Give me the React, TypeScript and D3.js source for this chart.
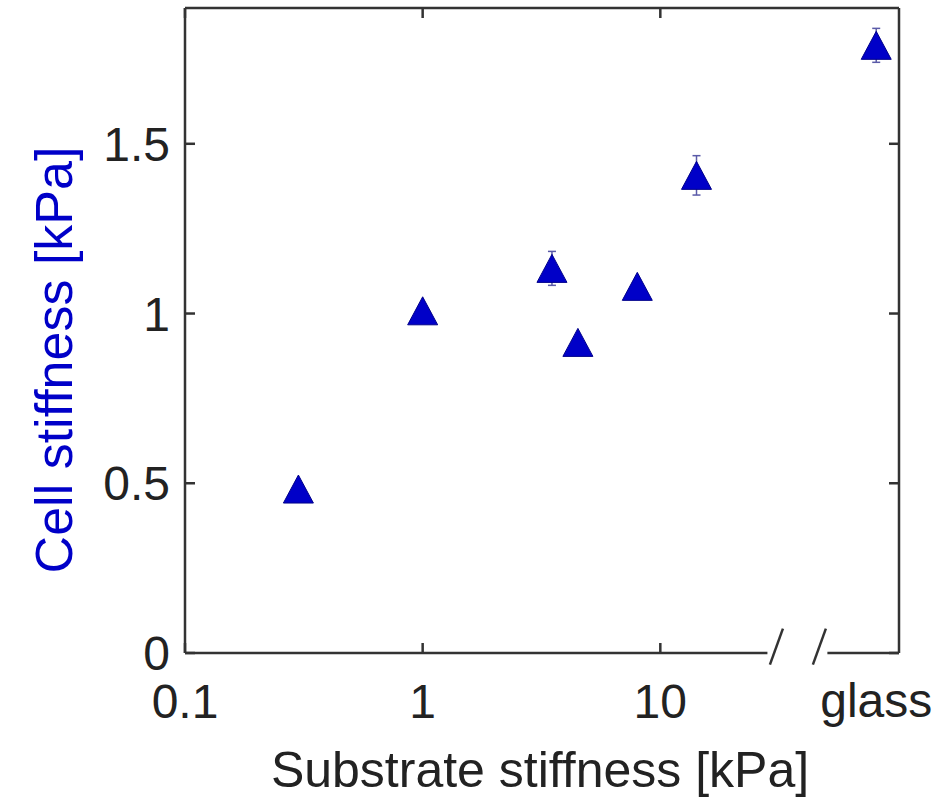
import React from "react";
import * as d3 from "d3";

// Data (substrate stiffness kPa; "glass" drawn at a virtual position after the axis break)
const substrateKPa: number[] = [0.3, 1.0, 3.5, 4.5, 8.0, 14.2];
const cellStiffness: number[] = [0.483, 1.008, 1.133, 0.915, 1.08, 1.407];
const cellError: number[] = [0.012, 0.012, 0.05, 0.012, 0.012, 0.058];
const glassValue = 1.79;
const glassError = 0.05;
const glassLabel = "glass";
const xTickValues: number[] = [0.1, 1, 10];
const xTickLabels: string[] = ["0.1", "1", "10"];
const yTickValues: number[] = [0, 0.5, 1, 1.5];
const yTickLabels: string[] = ["0", "0.5", "1", "1.5"];
const xTitle = "Substrate stiffness [kPa]";
const yTitle = "Cell stiffness [kPa]";

// layout
const W = 934, H = 798;
const left = 185, right = 899, top = 8, bottom = 653;
const glassPos = 81; // virtual x position for glass
const breakA = 30.8, breakB = 46.7;

export default function App() {
  const x = d3.scaleLog().domain([0.1, 101]).range([left, right]);
  const y = d3.scaleLinear().domain([0, 1.9]).range([bottom, top]);
  const axisColor = "#333";
  const blue = "#0000c8";
  const font = "'Liberation Sans', Arial, Helvetica, sans-serif";
  const tick = 10;
  const triPath = (cx: number, cy: number) => {
    const w = 15, h = 14;
    return `M${cx},${cy - h}L${cx + w},${cy + h}L${cx - w},${cy + h}Z`;
  };

  const points = substrateKPa.map((v, i) => ({ xv: v, yv: cellStiffness[i], e: cellError[i] }));
  points.push({ xv: glassPos, yv: glassValue, e: glassError });

  const xa = x(breakA), xb = x(breakB);
  const slash = 6.5, slashH = 18;

  return (
    <svg width={W} height={H} style={{ position: "absolute", left: 0, top: 0, background: "#fff" }}>
      <rect x={0} y={0} width={W} height={H} fill="#fff" />
      <g stroke={axisColor} strokeWidth={2.5} fill="none">
        <line x1={left} y1={top} x2={right} y2={top} />
        <line x1={left} y1={top} x2={left} y2={bottom} />
        <line x1={right} y1={top} x2={right} y2={bottom} />
        <line x1={left} y1={bottom} x2={xa - 9} y2={bottom} />
        <line x1={xb + 8} y1={bottom} x2={right} y2={bottom} />
        <line x1={xa - slash} y1={bottom + slashH * 0.65} x2={xa + slash} y2={bottom - slashH * 1.35} />
        <line x1={xb - slash} y1={bottom + slashH * 0.65} x2={xb + slash} y2={bottom - slashH * 1.35} />
        {xTickValues.map((v) => (
          <g key={"xt" + v}>
            <line x1={x(v)} y1={bottom} x2={x(v)} y2={bottom - tick} />
            <line x1={x(v)} y1={top} x2={x(v)} y2={top + tick} />
          </g>
        ))}
        {yTickValues.map((v) => (
          <g key={"yt" + v}>
            <line x1={left} y1={y(v)} x2={left + tick} y2={y(v)} />
            <line x1={right} y1={y(v)} x2={right - tick} y2={y(v)} />
          </g>
        ))}
      </g>
      <g fontFamily={font} fontSize={48} fill="#222">
        {xTickValues.map((v, i) => (
          <text key={"xl" + v} x={x(v)} y={718} textAnchor="middle">{xTickLabels[i]}</text>
        ))}
        <text x={x(glassPos)} y={717} textAnchor="middle">{glassLabel}</text>
        {yTickValues.map((v, i) => (
          <text key={"yl" + v} x={170} y={y(v) + 17} textAnchor="end">{yTickLabels[i]}</text>
        ))}
      </g>
      <text x={540} y={787} textAnchor="middle" fontFamily={font} fontSize={50} fill="#222">{xTitle}</text>
      <text transform={`translate(72,360) rotate(-90)`} textAnchor="middle" fontFamily={font} fontSize={52} fill={blue}>{yTitle}</text>
      {points.map((p, i) => {
        const cx = x(p.xv), cy = y(p.yv);
        const y1 = y(p.yv + p.e), y2 = y(p.yv - p.e);
        return (
          <g key={"p" + i}>
            <g stroke="#5a5aa8" strokeWidth={1.5}>
              <line x1={cx} y1={y1} x2={cx} y2={y2} />
              <line x1={cx - 4} y1={y1} x2={cx + 4} y2={y1} />
              <line x1={cx - 4} y1={y2} x2={cx + 4} y2={y2} />
            </g>
            <path d={triPath(cx, cy)} fill={blue} stroke="#00008a" strokeWidth={1} />
          </g>
        );
      })}
    </svg>
  );
}
